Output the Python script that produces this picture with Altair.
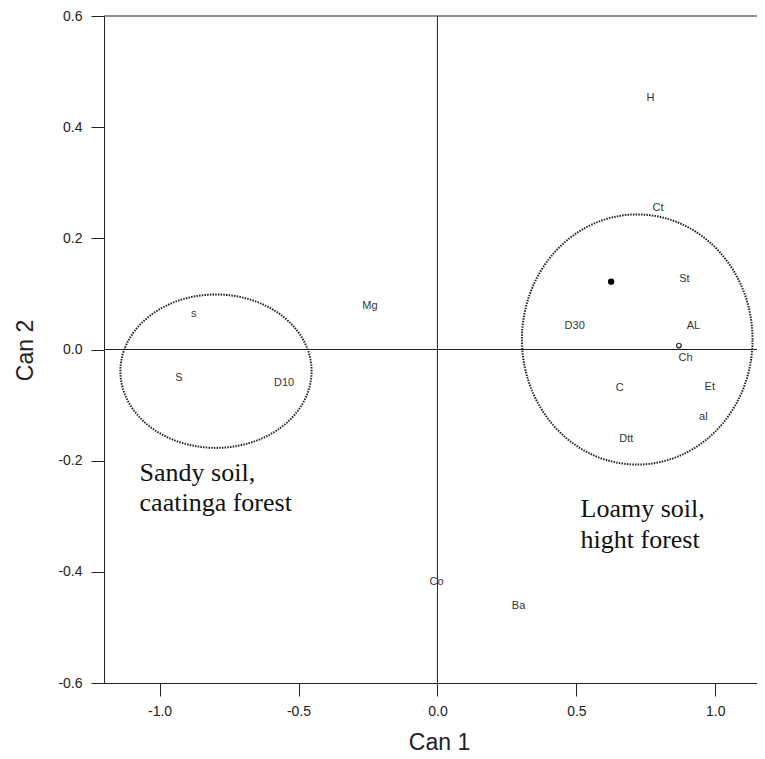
import altair as alt
import numpy as np
import pandas as pd

# ---- data ----
labels = ["H", "Ct", "St", "D30", "AL", "Ch", "C", "Et", "al", "Dtt",
          "s", "Mg", "S", "D10", "Co", "Ba"]
can1 = [0.767, 0.794, 0.889, 0.494, 0.921, 0.893, 0.656, 0.980, 0.957, 0.680,
        -0.877, -0.243, -0.930, -0.552, -0.003, 0.292]
can2 = [0.453, 0.255, 0.126, 0.042, 0.042, -0.015, -0.069, -0.067, -0.121, -0.161,
        0.064, 0.078, -0.051, -0.061, -0.419, -0.462]

dot_filled_x = [0.625]
dot_filled_y = [0.122]
dot_open_x = [0.869]
dot_open_y = [0.007]

ellipse_cx = [-0.797, 0.719]
ellipse_cy = [-0.039, 0.018]
ellipse_rx = [0.344, 0.415]
ellipse_ry = [0.138, 0.225]

note_lines = ["Sandy soil,", "caatinga forest", "Loamy soil,", "hight forest"]
note_x = [-1.072, -1.072, 0.515, 0.515]
note_y = [-0.237, -0.291, -0.301, -0.357]

x_ticks = [-1.0, -0.5, 0.0, 0.5, 1.0]
y_ticks = [-0.6, -0.4, -0.2, 0.0, 0.2, 0.4, 0.6]

# ---- tables ----
pts = pd.DataFrame({"x": can1, "y": can2, "label": labels})
filled = pd.DataFrame({"x": dot_filled_x, "y": dot_filled_y})
opened = pd.DataFrame({"x": dot_open_x, "y": dot_open_y})
notes = pd.DataFrame({"x": note_x, "y": note_y, "text": note_lines})

rows = []
t = np.linspace(0, 2 * np.pi, 241)
for k in range(len(ellipse_cx)):
    for i, a in enumerate(t):
        rows.append({"x": ellipse_cx[k] + ellipse_rx[k] * np.cos(a),
                     "y": ellipse_cy[k] + ellipse_ry[k] * np.sin(a),
                     "g": k, "o": i})
ell = pd.DataFrame(rows)

xscale = alt.Scale(domain=[-1.2, 1.15], nice=False, zero=False)
yscale = alt.Scale(domain=[-0.6, 0.6], nice=False, zero=False)

LINE = "#222222"
minus_fix = "replace(datum.label, '\u2212', '-')"

x_axis = alt.Axis(values=x_ticks, format=".1f", labelExpr=minus_fix, title="Can 1",
                  tickSize=13, labelPadding=8, titleX=335, titleY=66,
                  titleBaseline="alphabetic", titleAnchor="middle")
y_axis = alt.Axis(values=y_ticks, format=".1f", labelExpr=minus_fix, title="Can 2",
                  tickSize=13, labelPadding=9, titleX=-72, titleY=334,
                  titleBaseline="alphabetic", titleAnchor="middle")


def X():
    return alt.X("x:Q", scale=xscale, axis=x_axis)


def Y():
    return alt.Y("y:Q", scale=yscale, axis=y_axis)


text_layer = alt.Chart(pts).mark_text(
    font="Liberation Sans", fontSize=11, color="#333333", align="center", baseline="middle"
).encode(x=X(), y=Y(), text="label:N")

hline = alt.Chart(pd.DataFrame({"y": [0.0, 0.6]})).mark_rule(
    color=LINE, strokeWidth=1
).encode(y=Y())

vline = alt.Chart(pd.DataFrame({"x": [0.0]})).mark_rule(
    color=LINE, strokeWidth=1
).encode(x=X())

ellipses = alt.Chart(ell).mark_line(
    color=LINE, strokeWidth=2, strokeDash=[1.5, 1.2], strokeCap="butt"
).encode(x=X(), y=Y(), detail="g:N", order="o:Q")

fdot = alt.Chart(filled).mark_point(
    shape="circle", filled=True, color="#000000", size=40, opacity=1
).encode(x=X(), y=Y())

odot = alt.Chart(opened).mark_point(
    shape="circle", filled=False, color="#222222", size=22, strokeWidth=1.2, opacity=1
).encode(x=X(), y=Y())

note_layer = alt.Chart(notes).mark_text(
    font="Liberation Serif", fontSize=26, color="#111111", align="left", baseline="alphabetic"
).encode(x=X(), y=Y(), text="text:N")

chart = alt.layer(text_layer, hline, vline, ellipses, fdot, odot, note_layer).properties(
    width=653, height=667,
    autosize=alt.AutoSizeParams(type="none"),
    padding={"left": 96, "top": 8, "right": 0, "bottom": 75},
    background="white",
).configure_view(
    stroke=None
).configure_axis(
    grid=False,
    domainColor=LINE, domainWidth=1,
    tickColor=LINE, tickWidth=1,
    labelColor="#222222", labelFont="Liberation Sans", labelFontSize=14,
    titleColor="#222222", titleFont="Liberation Sans", titleFontSize=23,
    titleFontWeight="normal",
)

chart.save("out.html", embed_options={"renderer": "svg", "actions": False})
